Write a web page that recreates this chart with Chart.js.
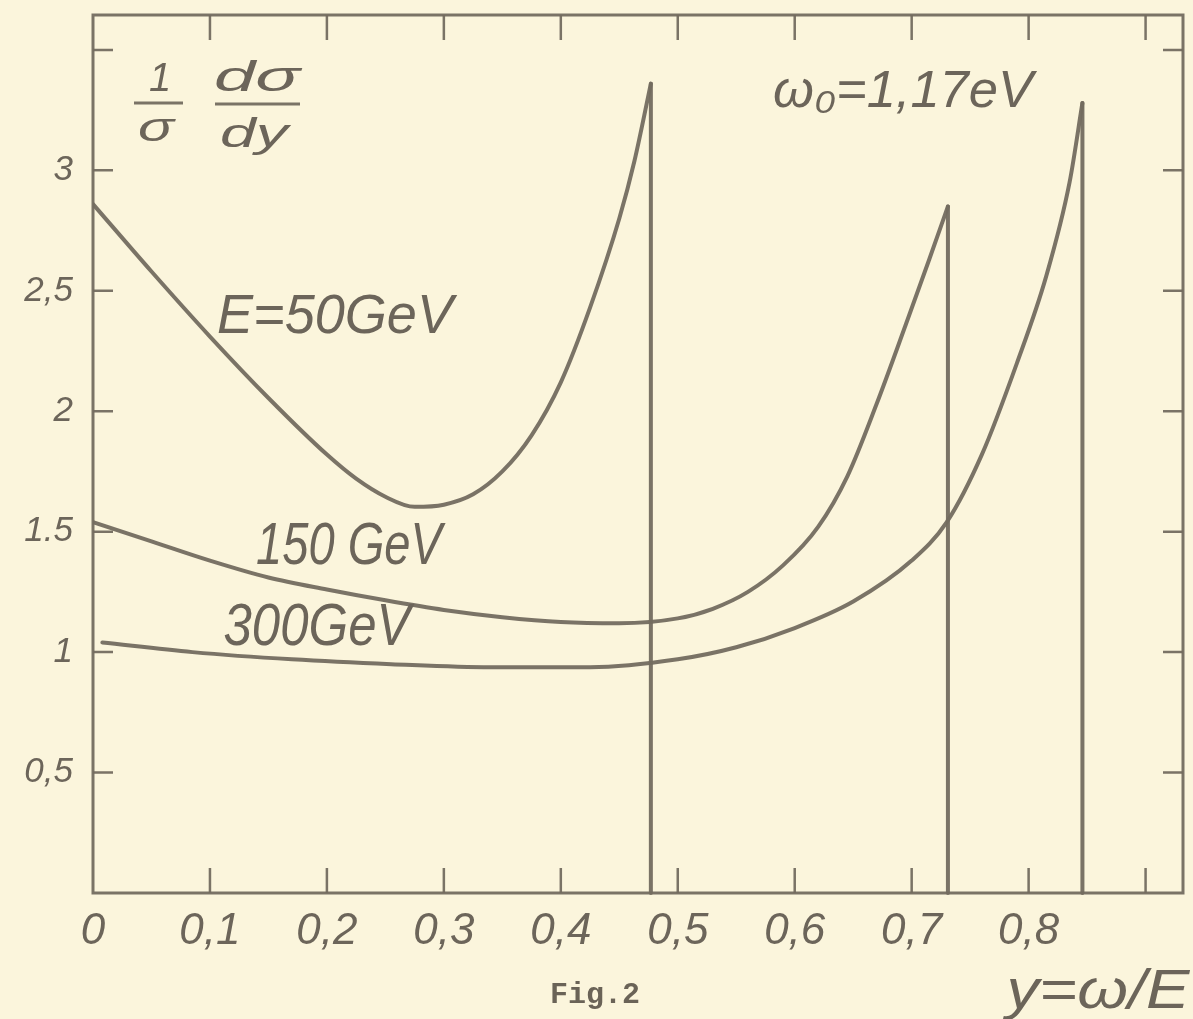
<!DOCTYPE html>
<html>
<head>
<meta charset="utf-8">
<script src="https://cdn.jsdelivr.net/npm/chart.js@4/dist/chart.umd.min.js"></script>
<style>
  html, body { margin: 0; padding: 0; background: #fbf5dc; }
  #c { display: block; }
</style>
</head>
<body>
<canvas id="c" width="1193" height="1019"></canvas>
<script>
// ---- data ----
const xTickValues = [0, 0.1, 0.2, 0.3, 0.4, 0.5, 0.6, 0.7, 0.8, 0.9];
const xTickLabels = ['0', '0,1', '0,2', '0,3', '0,4', '0,5', '0,6', '0,7', '0,8', ''];
const yTickValues = [0, 0.5, 1, 1.5, 2, 2.5, 3, 3.5];
const yTickLabels = ['', '0,5', '1', '1.5', '2', '2,5', '3', ''];

// E = 50 GeV
const y50 = [0, 0.05, 0.10, 0.15, 0.20, 0.225, 0.25, 0.275, 0.30, 0.325, 0.35, 0.375, 0.40, 0.425, 0.45, 0.463, 0.477];
const f50 = [2.86, 2.58, 2.31, 2.055, 1.82, 1.72, 1.645, 1.603, 1.612, 1.655, 1.75, 1.90, 2.12, 2.43, 2.80, 3.04, 3.36];
// E = 150 GeV
const y150 = [0, 0.05, 0.10, 0.15, 0.20, 0.25, 0.30, 0.35, 0.40, 0.45, 0.50, 0.53, 0.56, 0.59, 0.62, 0.645, 0.67, 0.695, 0.715, 0.731];
const f150 = [1.54, 1.46, 1.38, 1.31, 1.26, 1.215, 1.175, 1.145, 1.125, 1.12, 1.14, 1.18, 1.25, 1.36, 1.52, 1.73, 2.03, 2.36, 2.63, 2.85];
// E = 300 GeV
const y300 = [0.008, 0.085, 0.17, 0.255, 0.34, 0.425, 0.50, 0.55, 0.60, 0.65, 0.70, 0.73, 0.76, 0.79, 0.815, 0.835, 0.846];
const f300 = [1.04, 1.00, 0.97, 0.95, 0.937, 0.937, 0.97, 1.02, 1.10, 1.21, 1.38, 1.54, 1.82, 2.20, 2.56, 2.95, 3.28];

// ---- styling ----
const PAPER = '#fbf5dc';
const INK = 'rgba(115,107,95,0.95)';
const TEXT = '#6c655a';
const HAND = '"Liberation Sans", "DejaVu Sans", sans-serif';

function pts(xs, vs) { return xs.map((x, i) => ({ x: x, y: vs[i] })); }
function edge(xs, vs) {
  const n = xs.length - 1;
  return [{ x: xs[n], y: vs[n] }, { x: xs[n], y: 0 }];
}
function curve(data) {
  return { data: data, borderColor: INK, borderWidth: 4, pointRadius: 0,
           cubicInterpolationMode: 'monotone', fill: false, borderCapStyle: 'round', borderJoinStyle: 'round' };
}
function vline(data) {
  return { data: data, borderColor: INK, borderWidth: 4, pointRadius: 0, tension: 0, fill: false,
           borderCapStyle: 'round', clip: 4 };
}

function labelFor(values, labels, v) {
  const i = values.findIndex(t => Math.abs(t - v) < 1e-6);
  return i >= 0 ? labels[i] : '';
}

function handText(ctx, text, cx, baseline, size, width, italic) {
  ctx.save();
  ctx.font = (italic === false ? '' : 'italic ') + size + 'px ' + HAND;
  const w = ctx.measureText(text).width;
  const sx = width ? width / w : 1;
  ctx.translate(cx, baseline);
  ctx.scale(sx, 1);
  ctx.textAlign = 'center';
  ctx.textBaseline = 'alphabetic';
  ctx.fillStyle = TEXT;
  ctx.fillText(text, 0, 0);
  ctx.restore();
}

const paper = {
  id: 'paper',
  beforeDraw(chart) {
    const ctx = chart.ctx;
    ctx.save();
    ctx.fillStyle = PAPER;
    ctx.fillRect(0, 0, chart.width, chart.height);
    ctx.restore();
  },
  afterDraw(chart) {
    const ctx = chart.ctx;
    const a = chart.chartArea;
    const xs = chart.scales.x, ys = chart.scales.y;
    ctx.save();
    ctx.strokeStyle = INK;
    ctx.lineCap = 'butt';
    // frame
    ctx.lineWidth = 3;
    ctx.strokeRect(a.left, a.top, a.right - a.left, a.bottom - a.top);
    // inward ticks
    ctx.lineWidth = 2.5;
    ctx.beginPath();
    xTickValues.forEach(v => {
      if (v === 0) return;
      const px = xs.getPixelForValue(v);
      ctx.moveTo(px, a.bottom); ctx.lineTo(px, a.bottom - 25);
      ctx.moveTo(px, a.top); ctx.lineTo(px, a.top + 25);
    });
    yTickValues.forEach(v => {
      if (v === 0) return;
      const py = ys.getPixelForValue(v);
      ctx.moveTo(a.left, py); ctx.lineTo(a.left + 20, py);
      ctx.moveTo(a.right, py); ctx.lineTo(a.right - 20, py);
    });
    ctx.stroke();

    // y-axis title: (1/sigma) (d sigma / dy)
    handText(ctx, '1', 160, 91, 40, 0);
    handText(ctx, 'σ', 156, 141, 40, 36);
    handText(ctx, 'dσ', 257, 91, 42, 86);
    handText(ctx, 'dy', 254, 147, 40, 68);
    ctx.lineWidth = 3;
    ctx.beginPath();
    ctx.moveTo(134, 103); ctx.lineTo(183, 103);
    ctx.moveTo(215, 104); ctx.lineTo(300, 104);
    ctx.stroke();

    // curve annotations
    handText(ctx, 'E=50GeV', 335, 333, 55, 236);
    handText(ctx, '150 GeV', 349, 564, 60, 186);
    handText(ctx, '300GeV', 317, 645, 60, 187);
    handText(ctx, 'ω₀=1,17eV', 903, 107, 52, 260);
    handText(ctx, 'y=ω/E', 1098, 1008, 56, 183);
    // caption
    ctx.save();
    ctx.font = 'bold 30px "Liberation Mono", "DejaVu Sans Mono", monospace';
    ctx.fillStyle = '#6a6357';
    ctx.textAlign = 'center';
    ctx.textBaseline = 'alphabetic';
    ctx.fillText('Fig.2', 595, 1003);
    ctx.restore();
    ctx.restore();
  }
};

new Chart(document.getElementById('c'), {
  type: 'line',
  data: {
    datasets: [
      curve(pts(y50, f50)), vline(edge(y50, f50)),
      curve(pts(y150, f150)), vline(edge(y150, f150)),
      curve(pts(y300, f300)), vline(edge(y300, f300))
    ]
  },
  options: {
    responsive: false,
    animation: false,
    devicePixelRatio: 1,
    layout: { padding: { left: 0, right: 10, top: 15, bottom: 0 } },
    plugins: { legend: { display: false }, tooltip: { enabled: false } },
    scales: {
      x: {
        type: 'linear', min: 0, max: 0.932,
        afterBuildTicks: s => { s.ticks = xTickValues.map(v => ({ value: v })); },
        afterFit: s => { s.height = 126; s.paddingLeft = 0; s.paddingRight = 0; },
        grid: { display: false, drawTicks: false },
        border: { display: false },
        ticks: {
          autoSkip: false, maxRotation: 0, padding: 12,
          color: TEXT,
          font: { family: HAND, size: 44, style: 'italic' },
          callback: v => labelFor(xTickValues, xTickLabels, v)
        }
      },
      y: {
        type: 'linear', min: 0, max: 3.645,
        afterBuildTicks: s => { s.ticks = yTickValues.map(v => ({ value: v })); },
        afterFit: s => { s.width = 93; s.paddingTop = 0; s.paddingBottom = 0; },
        grid: { display: false, drawTicks: false },
        border: { display: false },
        ticks: {
          autoSkip: false, padding: 20,
          color: TEXT,
          font: { family: HAND, size: 35, style: 'italic' },
          callback: v => labelFor(yTickValues, yTickLabels, v)
        }
      }
    }
  },
  plugins: [paper]
});
</script>
</body>
</html>
